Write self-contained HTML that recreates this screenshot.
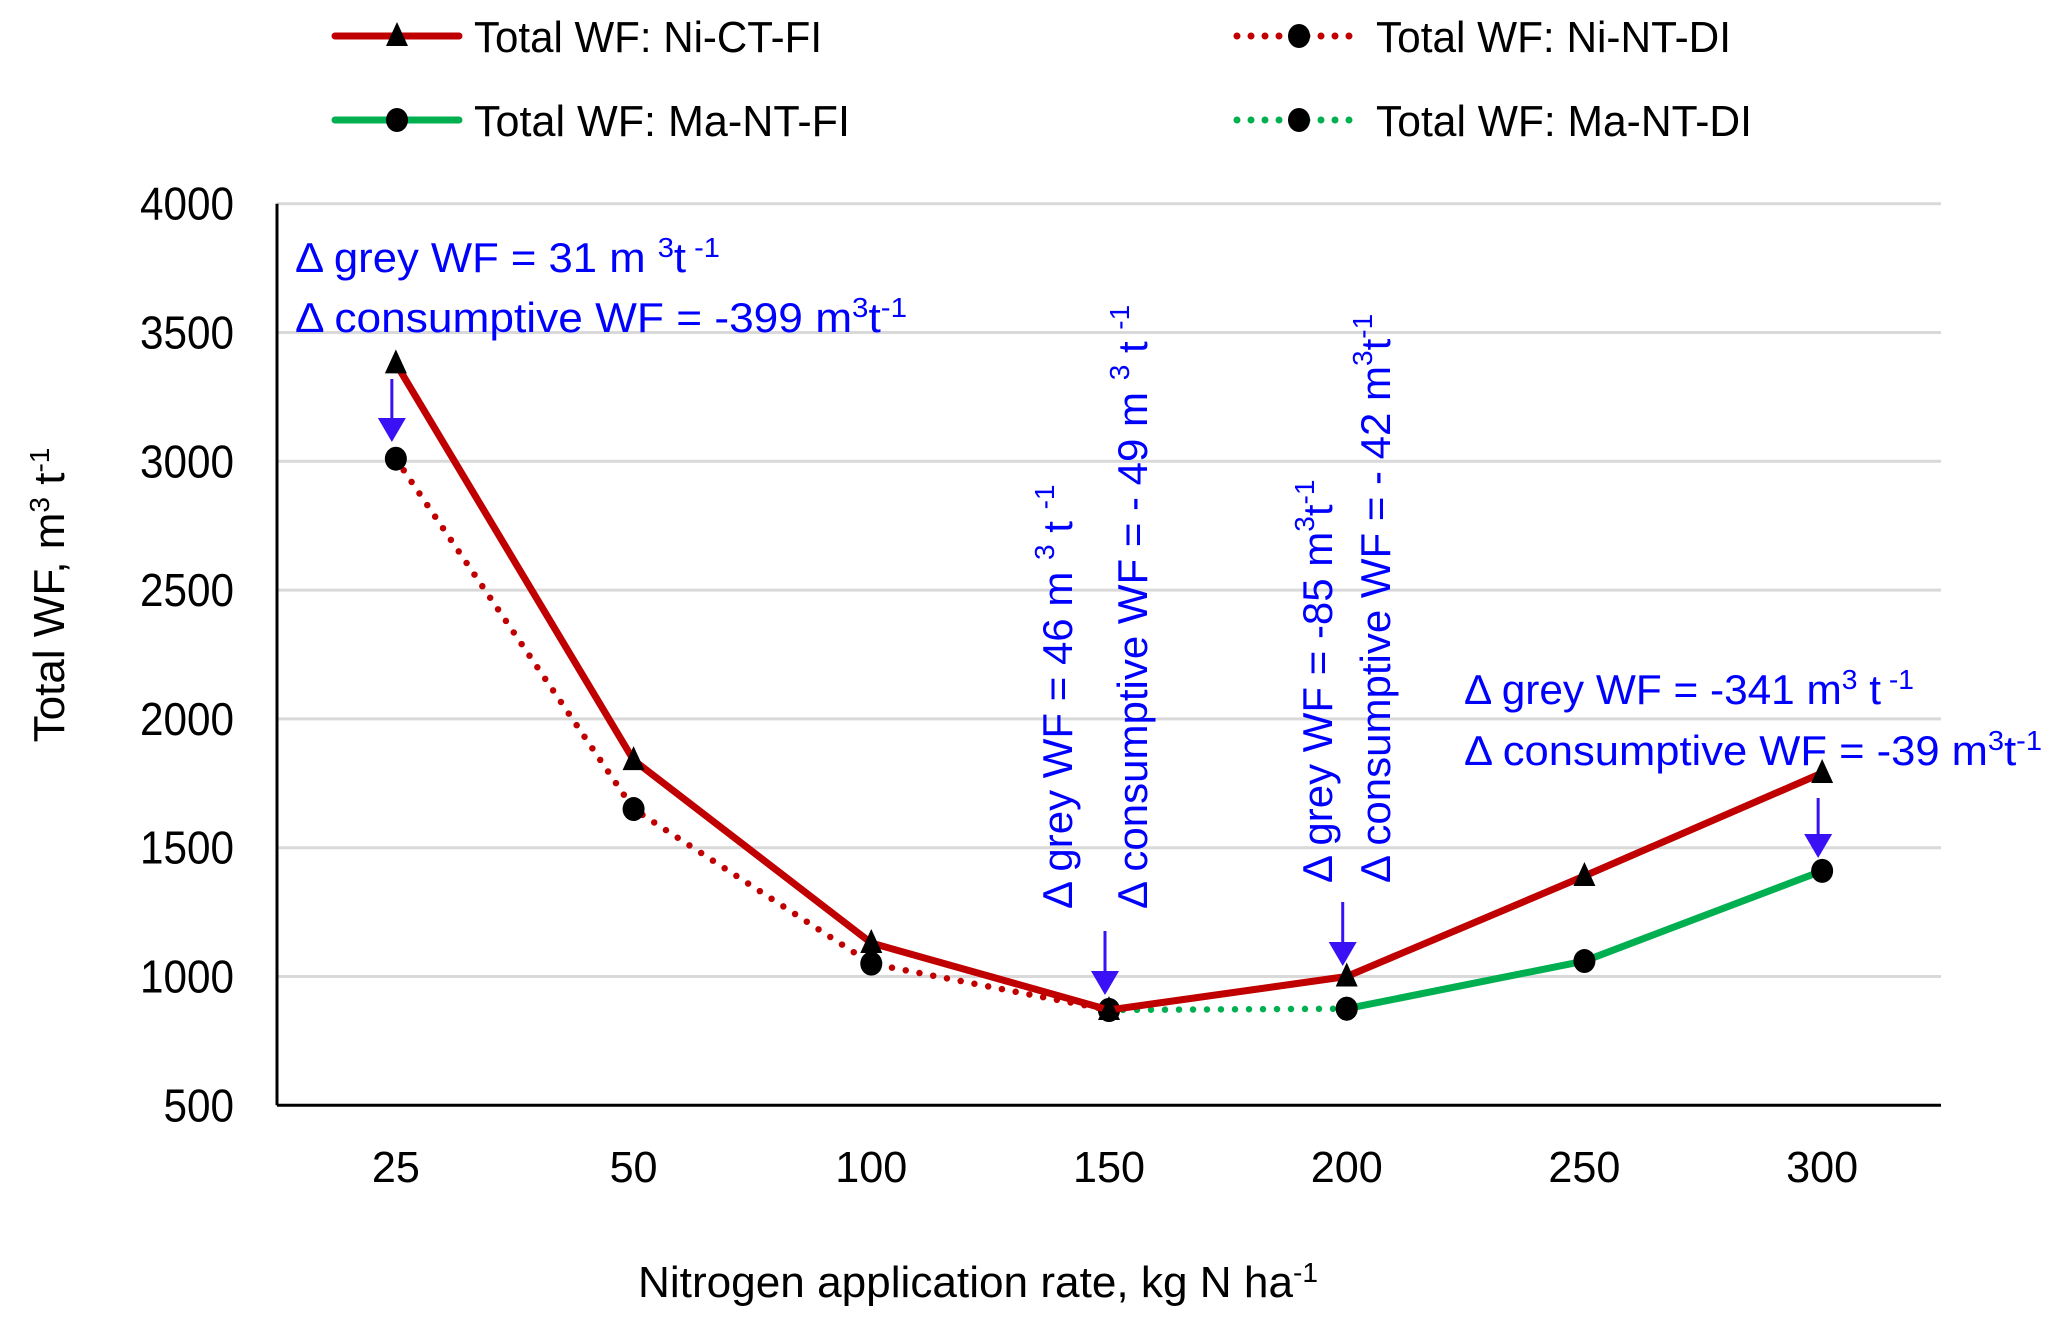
<!DOCTYPE html>
<html><head><meta charset="utf-8"><style>
html,body{margin:0;padding:0;background:#fff}
svg{display:block}
text{font-family:"Liberation Sans",sans-serif}
</style></head><body>
<svg id="chart" width="2067" height="1320" viewBox="0 0 2067 1320" xmlns="http://www.w3.org/2000/svg">
<g id="grid"></g>
<g id="axes"></g>
<g id="series"></g>
<g id="legend"></g>
<g id="ann" fill="#0000ff" font-size="42">
  <text x="295" y="272" textLength="425" lengthAdjust="spacingAndGlyphs">Δ grey WF = 31 m <tspan dy="-15" font-size="28">3</tspan><tspan dy="15">t</tspan><tspan dy="-15" font-size="28"> -1</tspan></text>
  <text x="295" y="332" textLength="612" lengthAdjust="spacingAndGlyphs">Δ  consumptive WF = -399 m<tspan dy="-15" font-size="28">3</tspan><tspan dy="15">t</tspan><tspan dy="-15" font-size="28">-1</tspan></text>
  <text x="1464" y="704" textLength="450" lengthAdjust="spacingAndGlyphs">Δ grey WF = -341 m<tspan dy="-15" font-size="28">3</tspan><tspan dy="15"> t</tspan><tspan dy="-15" font-size="28"> -1</tspan></text>
  <text x="1464" y="765" textLength="578" lengthAdjust="spacingAndGlyphs">Δ  consumptive WF = -39 m<tspan dy="-15" font-size="28">3</tspan><tspan dy="15">t</tspan><tspan dy="-15" font-size="28">-1</tspan></text>
  <text transform="translate(1072,909) rotate(-90)">Δ grey WF = 46 m <tspan dy="-18" font-size="28">3</tspan><tspan dy="18"> t </tspan><tspan dy="-18" font-size="28">-1</tspan></text>
  <text transform="translate(1147,909) rotate(-90)">Δ consumptive WF = - 49 m <tspan dy="-18" font-size="28">3</tspan><tspan dy="18"> t </tspan><tspan dy="-18" font-size="28">-1</tspan></text>
  <text transform="translate(1332,883) rotate(-90)">Δ grey WF = -85 m<tspan dy="-18" font-size="28">3</tspan><tspan dy="18">t</tspan><tspan dy="-18" font-size="28">-1</tspan></text>
  <text transform="translate(1390,883) rotate(-90)">Δ consumptive WF = - 42 m<tspan dy="-18" font-size="28">3</tspan><tspan dy="18">t</tspan><tspan dy="-18" font-size="28">-1</tspan></text>
</g>
<g id="arrows"></g>
</svg>
<script>
const categories = ["25","50","100","150","200","250","300"];
const niCtFi = [3380,1840,1130,870,1000,1390,1790];
const niNtDi = [3010,1650,1050,870,null,null,null];
const maNtDi = [null,null,null,870,875,null,null];
const maNtFi = [null,null,null,null,875,1060,1410];
const yTicks = [500,1000,1500,2000,2500,3000,3500,4000];
const arrowFrom = [["25",3380],["150",1180],["200",1390],["300",1790]];

const NS="http://www.w3.org/2000/svg";
const L=277,R=1941,T=203.7,B=1105.3,yMin=500,yMax=4000;
const band=(R-L)/categories.length;
function xs(i){return L+band*(i+0.5);}
function ys(v){return B-(v-yMin)/(yMax-yMin)*(B-T);}
function mk(tag,attrs,parent){const e=document.createElementNS(NS,tag);for(const k in attrs)e.setAttribute(k,attrs[k]);parent.appendChild(e);return e;}
const grid=document.getElementById('grid'),axes=document.getElementById('axes'),ser=document.getElementById('series'),leg=document.getElementById('legend'),arr=document.getElementById('arrows');

yTicks.forEach(v=>{
  if(v>yMin){const g=mk('line',{x1:L,x2:R,y1:ys(v),y2:ys(v),stroke:'#d9d9d9','stroke-width':3},grid);
  
  }
  const s=String(v);
  const t=mk('text',{x:234,y:ys(v)+16,'text-anchor':'end','font-size':46,fill:'#000',textLength:s.length*23.5,lengthAdjust:'spacingAndGlyphs'},axes);
  t.textContent=s;
  
  
});
categories.forEach((c,i)=>{
  const t=mk('text',{x:xs(i),y:1182,'text-anchor':'middle','font-size':44,fill:'#000',textLength:c.length*24,lengthAdjust:'spacingAndGlyphs'},axes);
  t.textContent=c;
  
  
});
let a=mk('line',{x1:L,x2:L,y1:T,y2:B,stroke:'#000','stroke-width':3},axes);


a=mk('line',{x1:L,x2:R,y1:B,y2:B,stroke:'#000','stroke-width':3},axes);


let xt=mk('text',{x:638,y:1297,'font-size':44,fill:'#000',textLength:680,lengthAdjust:'spacingAndGlyphs'},axes);
xt.innerHTML='Nitrogen application rate, kg N ha<tspan dy="-15" font-size="28">-1</tspan>';


let yt=mk('text',{transform:'translate(64,595) rotate(-90)','text-anchor':'middle','font-size':44,fill:'#000'},axes);
yt.innerHTML='Total WF, m<tspan dy="-15" font-size="28">3</tspan><tspan dy="15"> t</tspan><tspan dy="-15" font-size="28">-1</tspan>';



function marker(type,x,y,parent){
  let m;
  if(type==='tri') m=mk('polygon',{points:`${x},${y-14} ${x-11},${y+10} ${x+11},${y+10}`,fill:'#000'},parent);
  else m=mk('ellipse',{cx:x,cy:y,rx:11,ry:12,fill:'#000'},parent);
  return m;
}
function drawSeries(name,vals,color,dash,type){
  const g=mk('g',{},ser);
  
  
  let pts=[];vals.forEach((v,i)=>{if(v!==null)pts.push([xs(i),ys(v)]);});
  const p=mk('polyline',{points:pts.map(p=>p.join(',')).join(' '),fill:'none',stroke:color,'stroke-width':dash?6.5:7,'stroke-dasharray':dash?'0 14':'none','stroke-linecap':'round','stroke-linejoin':'round'},g);
  
  
  vals.forEach((v,i)=>{if(v!==null){const m=marker(type,xs(i),ys(v),g);
    
    }});
}
drawSeries('ni-nt-di',niNtDi,'#c00000',true,'dot');
drawSeries('ma-nt-di',maNtDi,'#00b050',true,'dot');
drawSeries('ma-nt-fi',maNtFi,'#00b050',false,'dot');
drawSeries('ni-ct-fi',niCtFi,'#c00000',false,'tri');

arrowFrom.forEach(([c,v])=>{
  const i=categories.indexOf(c);const x=xs(i)-4;
  let y1, y2;
  if(c==="25"){y1=379;y2=442;} else if(c==="150"){y1=931;y2=995;} else if(c==="200"){y1=902;y2=966;} else {y1=798;y2=858;}
  const g=mk('g',{},arr);
  
  
  mk('line',{x1:x,x2:x,y1:y1,y2:y2-18,stroke:'#3a10f5','stroke-width':3},g);
  mk('polygon',{points:`${x-14},${y2-24} ${x+14},${y2-24} ${x},${y2}`,fill:'#3a10f5'},g);
});

const legendItems=[["Total WF: Ni-CT-FI",'#c00000',false,'tri',335,36,348],["Total WF: Ni-NT-DI",'#c00000',true,'dot',1237,36,355],["Total WF: Ma-NT-FI",'#00b050',false,'dot',335,120,376],["Total WF: Ma-NT-DI",'#00b050',true,'dot',1237,120,376]];
legendItems.forEach(([lab,col,dash,type,x,y,w])=>{
  const g=mk('g',{},leg);
  
  
  mk('line',{x1:x,x2:x+124,y1:y,y2:y,stroke:col,'stroke-width':7,'stroke-dasharray':dash?'0 14':'none','stroke-linecap':'round'},g);
  marker(type,x+62,y,g);
  const t=mk('text',{x:x+139,y:y+16,'font-size':44,fill:'#000',textLength:w,lengthAdjust:'spacingAndGlyphs'},g);
  t.textContent=lab;
});
</script>
</body></html>
